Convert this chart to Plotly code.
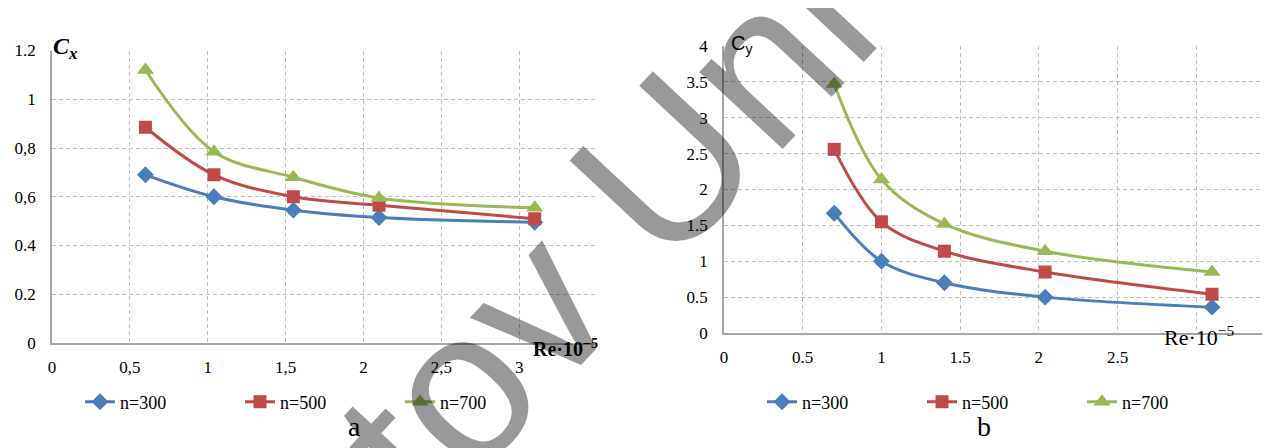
import plotly.graph_objects as go

W, H = 1270, 448

# ---------------- data ----------------
series_names = ["n=300", "n=500", "n=700"]
colors = ["#4A7EBB", "#BE4B48", "#98B954"]
symbols = ["diamond", "square", "triangle-up"]
marker_sizes = [13, 13, 15]

re_a = [0.6, 1.04, 1.55, 2.1, 3.1]
cx_300 = [0.69, 0.60, 0.545, 0.515, 0.495]
cx_500 = [0.885, 0.69, 0.60, 0.565, 0.51]
cx_700 = [1.12, 0.785, 0.68, 0.595, 0.555]

re_b = [0.7, 1.0, 1.4, 2.04, 3.1]
cy_300 = [1.67, 1.0, 0.70, 0.50, 0.36]
cy_500 = [2.56, 1.55, 1.14, 0.85, 0.54]
cy_700 = [3.47, 2.14, 1.52, 1.14, 0.85]

xa_tickvals = [0, 0.5, 1, 1.5, 2, 2.5, 3]
xa_ticktext = ["0", "0,5", "1", "1,5", "2", "2,5", "3"]
xa_extra_grid = [3.5]
ya_tickvals = [0, 0.2, 0.4, 0.6, 0.8, 1.0, 1.2]
ya_ticktext = ["0", "0.2", "0.4", "0,6", "0,8", "1", "1.2"]

xb_tickvals = [0, 0.5, 1, 1.5, 2, 2.5]
xb_ticktext = ["0", "0.5", "1", "1.5", "2", "2.5"]
xb_extra_grid = [3, 3.5]
yb_tickvals = [0, 0.5, 1, 1.5, 2, 2.5, 3, 3.5, 4]
yb_ticktext = ["0", "0.5", "1", "1.5", "2", "2.5", "3", "3.5", "4"]

watermark_text = "tov Univ"

# ---------------- helpers ----------------
def px(x):
    return x / W

def py(y):
    return 1 - y / H

SERIF = "Liberation Serif"
SANS = "Liberation Sans"
GRID_COLOR = "#BFBFBF"
GRID_DASH = "4px,3px"

fig = go.Figure()

cx_series = [cx_300, cx_500, cx_700]
cy_series = [cy_300, cy_500, cy_700]

for i in range(3):
    fig.add_trace(go.Scatter(
        x=re_a, y=cx_series[i], name=series_names[i], mode="lines+markers",
        line=dict(color=colors[i], width=3, shape="spline", smoothing=1.0),
        marker=dict(symbol=symbols[i], size=marker_sizes[i], color=colors[i]),
        xaxis="x", yaxis="y", legend="legend",
    ))
for i in range(3):
    fig.add_trace(go.Scatter(
        x=re_b, y=cy_series[i], name=series_names[i], mode="lines+markers",
        line=dict(color=colors[i], width=3, shape="spline", smoothing=1.0),
        marker=dict(symbol=symbols[i], size=marker_sizes[i], color=colors[i]),
        xaxis="x2", yaxis="y2", legend="legend2",
    ))

grid = dict(showgrid=True, gridcolor=GRID_COLOR, gridwidth=1, griddash=GRID_DASH,
            zeroline=False, showline=True, linecolor="#A6A6A6", linewidth=1.5,
            ticks="", tickfont=dict(family=SERIF, size=17, color="#000000"),
            automargin=False, fixedrange=True)

def minor_grid(vals):
    return dict(tickmode="array", tickvals=vals, showgrid=True, gridcolor=GRID_COLOR,
                gridwidth=1, griddash=GRID_DASH, ticks="")

fig.update_layout(
    template="none",
    width=W, height=H,
    margin=dict(l=0, r=0, t=0, b=0, pad=0, autoexpand=False),
    paper_bgcolor="white", plot_bgcolor="white",
    showlegend=True,
    xaxis=dict(domain=[px(44), px(589)], range=[0, 3.5], anchor="y",
               tickmode="array", tickvals=xa_tickvals, ticktext=xa_ticktext,
               minor=minor_grid(xa_extra_grid),
               ticklabelstandoff=8, **grid),
    yaxis=dict(domain=[py(335), py(42.5)], range=[0, 1.2], anchor="x",
               tickmode="array", tickvals=ya_tickvals, ticktext=ya_ticktext,
               ticklabelstandoff=11, **grid),
    xaxis2=dict(domain=[px(716), px(1267)], range=[0, 3.5], anchor="y2",
                tickmode="array", tickvals=xb_tickvals, ticktext=xb_ticktext,
                minor=minor_grid(xb_extra_grid),
                ticklabelstandoff=8, **grid),
    yaxis2=dict(domain=[py(325), py(38)], range=[0, 4], anchor="x2",
                tickmode="array", tickvals=yb_tickvals, ticktext=yb_ticktext,
                ticklabelstandoff=11, **grid),
    legend=dict(orientation="h", x=px(72), y=py(394), xanchor="left", yanchor="middle",
                font=dict(family=SERIF, size=18, color="#000000"),
                entrywidth=115, entrywidthmode="pixels", bgcolor="rgba(0,0,0,0)",
                itemclick=False, itemdoubleclick=False),
    legend2=dict(orientation="h", x=px(754), y=py(394), xanchor="left", yanchor="middle",
                 font=dict(family=SERIF, size=18, color="#000000"),
                 entrywidth=115, entrywidthmode="pixels", bgcolor="rgba(0,0,0,0)",
                 itemclick=False, itemdoubleclick=False),
)

annotations = [
    dict(text="<b><i>C<sub>x</sub></i></b>", x=px(43), y=py(23), xref="paper", yref="paper",
         showarrow=False, font=dict(family=SERIF, size=24, color="#000000")),
    dict(text="C<sub>y</sub>", x=px(734), y=py(22), xref="paper", yref="paper",
         showarrow=False, font=dict(family=SANS, size=20, color="#000000")),
    dict(text="<b>Re·10<sup>−5</sup></b>", x=px(557), y=py(354), xref="paper", yref="paper",
         showarrow=False, font=dict(family=SERIF, size=20, color="#000000")),
    dict(text="Re·10<sup>−5</sup>", x=px(1228), y=py(344), xref="paper", yref="paper",
         showarrow=False, font=dict(family=SERIF, size=22, color="#000000")),
    dict(text="a", x=px(338), y=py(436), xref="paper", yref="paper",
         showarrow=False, font=dict(family=SERIF, size=28, color="#000000")),
    dict(text="b", x=px(985), y=py(436), xref="paper", yref="paper",
         showarrow=False, font=dict(family=SERIF, size=28, color="#000000")),
    dict(text=watermark_text, x=px(632), y=py(184), xref="paper", yref="paper",
         showarrow=False, textangle=-47, xanchor="center", yanchor="middle",
         font=dict(family=SANS, size=215, color="rgba(0,0,0,0.4)")),
]
fig.update_layout(annotations=annotations)

fig.write_html("out.html", config={"displayModeBar": False})
